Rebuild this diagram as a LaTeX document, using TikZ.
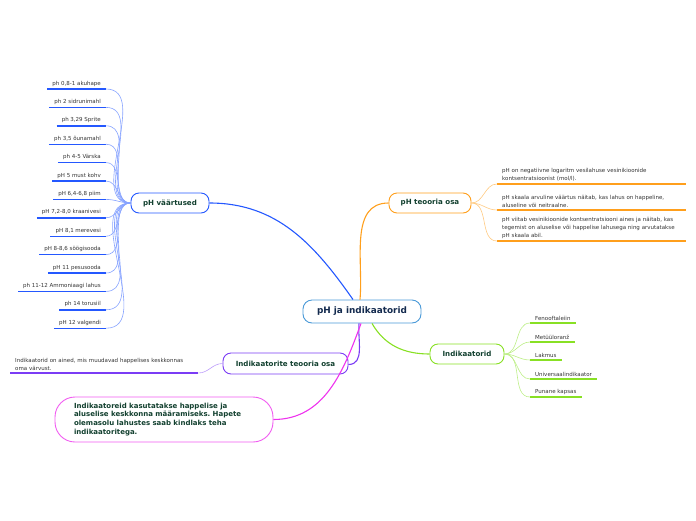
\documentclass[tikz,border=0pt]{standalone}
\usepackage{fontspec}
\setmainfont{DejaVu Sans}
\usetikzlibrary{positioning}
\frenchspacing
\definecolor{rootblue}{HTML}{4A9AD8}
\definecolor{valueblue}{HTML}{2458FF}
\definecolor{theoryorange}{HTML}{FF9F1C}
\definecolor{indgreen}{HTML}{88E024}
\definecolor{indpurple}{HTML}{7B3CF5}
\definecolor{usemagenta}{HTML}{EE33EE}
\definecolor{labelgreen}{HTML}{12402F}
\definecolor{rootnavy}{HTML}{132A4E}
\definecolor{leafgray}{HTML}{333333}

\begin{document}
\begin{tikzpicture}[
    x=1pt, y=-1pt,
    topic/.style={
        draw,
        fill=white,
        rounded corners=8pt,
        minimum height=20pt,
        inner xsep=6pt,
        line width=0.9pt,
        text=labelgreen,
        font=\fontsize{7.1}{8.5}\selectfont\bfseries
    },
    leaf/.style={
        inner xsep=5pt,
        inner ysep=2.5pt,
        text=leafgray,
        font=\fontsize{5.5}{7.9}\selectfont
    },
    underline/.style={line width=1.4pt},
    twig/.style={line width=0.6pt}
]
\useasboundingbox (0,0) rectangle (696,520);

% Central topic
\node[draw=rootblue, fill=white, rounded corners=9pt, line width=0.9pt,
      minimum width=118pt, minimum height=23pt, text=rootnavy,
      font=\fontsize{8.9}{10}\selectfont\bfseries] (root) at (362,311.5) {pH ja indikaatorid};

% Main topics
\node[topic, draw=valueblue, minimum width=78pt] (vaartused) at (170,203) {pH väärtused};
\node[topic, draw=theoryorange, minimum width=82pt] (teooria) at (430,203) {pH teooria osa};
\node[topic, draw=indgreen, minimum width=74pt] (indik) at (467,354) {Indikaatorid};
\node[topic, draw=indpurple, minimum width=125pt, minimum height=21pt] (indteooria) at (285.5,363.5) {Indikaatorite teooria osa};
\node[topic, draw=usemagenta!80, rounded corners=20pt, text width=180pt, inner xsep=19pt,
      minimum height=45pt, align=left, font=\fontsize{7}{8.9}\selectfont\bfseries] (kasutus) at (164,419.5)
    {Indikaatoreid kasutatakse happelise ja\\aluselise keskkonna määramiseks. Hapete\\olemasolu lahustes saab kindlaks teha\\indikaatoritega.};

% Branches from the central topic
\draw[valueblue, line width=1.1pt] ([xshift=-9pt]root.north) to[out=125,in=0] (vaartused.east);
\draw[theoryorange, line width=1.1pt] ([xshift=-2pt]root.north) to[out=85,in=180] (teooria.west);
\draw[indgreen, line width=1.1pt] ([xshift=10pt]root.south) to[out=-60,in=180] (indik.west);
\draw[indpurple, line width=1.1pt] ([xshift=-3pt]root.south) to[out=-95,in=0] ([yshift=-1pt]indteooria.east);
\draw[usemagenta, line width=1.1pt] ([xshift=-1pt]root.south) to[out=-110,in=0] (kasutus.east);

% pH values
\foreach \i/\txt in {1/{ph 0,8-1 akuhape}, 2/{ph 2 sidrunimahl}, 3/{ph 3,29 Sprite},
    4/{ph 3,5 õunamahl}, 5/{ph 4-5 Värska}, 6/{pH 5 must kohv}, 7/{pH 6,4-6,8 piim},
    8/{pH 7,2-8,0 kraanivesi}, 9/{pH 8,1 merevesi}, 10/{pH 8-8,6 söögisooda},
    11/{pH 11 pesusooda}, 12/{ph 11-12 Ammoniaagi lahus}, 13/{ph 14 torusiil},
    14/{pH 12 valgendi}} {
    \node[leaf, anchor=south east] (v\i) at (106,{89+18.4*(\i-1)}) {\txt};
    \draw[valueblue, underline] (v\i.south west) -- (v\i.south east);
    \draw[valueblue!55, twig] (v\i.south east) to[out=0,in=180] (vaartused.west);
}

% pH theory
\node[leaf, anchor=south west, text width=179pt, align=left] (t1) at (497,184)
    {pH on negatiivne logaritm vesilahuse vesinikioonide\\kontsentratsioonist (mol/l).};
\node[leaf, anchor=south west, text width=179pt, align=left] (t2) at (497,210)
    {pH skaala arvuline väärtus näitab, kas lahus on happeline,\\aluseline või neitraalne.};
\node[leaf, anchor=south west, text width=179pt, align=left] (t3) at (497,241)
    {pH viitab vesinikioonide kontsentratsiooni aines ja näitab, kas\\tegemist on aluselise või happelise lahusega ning arvutatakse\\pH skaala abil.};
\foreach \t in {t1,t2,t3} {
    \draw[theoryorange, underline] (\t.south west) -- (\t.south east);
    \draw[theoryorange!55, twig] (teooria.east) to[out=0,in=180] (\t.south west);
}

% Indicators
\foreach \i/\txt/\y in {1/Fenooftaleiin/323, 2/Metüüloranž/342, 3/Lakmus/360,
    4/Universaalindikaator/379, 5/Punane kapsas/397} {
    \node[leaf, anchor=south west] (n\i) at (530,\y) {\txt};
    \draw[indgreen, underline] (n\i.south west) -- (n\i.south east);
    \draw[indgreen!55, twig] (indik.east) to[out=0,in=180] (n\i.south west);
}

% Indicator theory
\node[leaf, anchor=south west, text width=178pt, align=left] (p1) at (10,373)
    {Indikaatorid on ained, mis muudavad happelises keskkonnas\\oma värvust.};
\draw[indpurple, underline] (p1.south west) -- (p1.south east);
\draw[indpurple!50, twig] (p1.south east) to[out=0,in=180] (indteooria.west);

\end{tikzpicture}
\end{document}
